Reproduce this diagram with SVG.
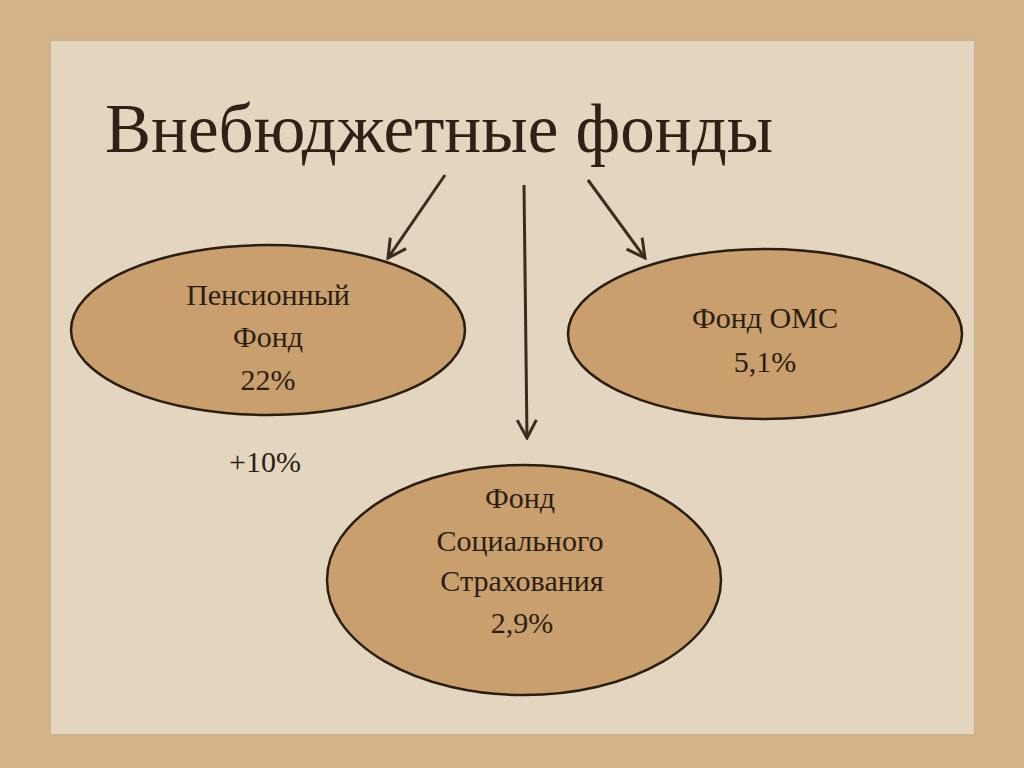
<svg xmlns="http://www.w3.org/2000/svg" width="1024" height="768" viewBox="0 0 1024 768">
<defs>
<style>
.n{fill:#c9a06d;stroke:#2a1e14;stroke-width:2.5}
.t{font-family:"Liberation Serif",serif;fill:#2a1e14;text-anchor:middle;font-size:30px}
.c{stroke:#3a2c20;stroke-width:3;fill:none}
</style>
<marker id="a" viewBox="0 0 20 20" refX="18" refY="10" markerWidth="24" markerHeight="24" orient="auto" markerUnits="userSpaceOnUse">
<path d="M3,2 L18,10 L3,18" fill="none" stroke="#3a2c20" stroke-width="2.5"/>
</marker>
</defs>
<rect width="1024" height="768" fill="#d5b48a"/>
<rect x="50" y="40" width="925" height="695" fill="#e4d6be" stroke="#c9b391" stroke-width="2"/>
<text x="105" y="152" font-family="Liberation Serif,serif" font-size="69" fill="#2e2218">Внебюджетные фонды</text>
<g id="connectors">
<line class="c" x1="445" y1="175" x2="388" y2="258" marker-end="url(#a)"/>
<line class="c" x1="524" y1="185" x2="527" y2="438" marker-end="url(#a)"/>
<line class="c" x1="588" y1="180" x2="645" y2="258" marker-end="url(#a)"/>
</g>
<g id="pension">
<ellipse class="n" cx="268" cy="330" rx="197" ry="85"/>
<text class="t" x="268" y="305">Пенсионный</text>
<text class="t" x="268" y="347">Фонд</text>
<text class="t" x="268" y="390">22%</text>
</g>
<g id="oms">
<ellipse class="n" cx="765" cy="334" rx="197" ry="85"/>
<text class="t" x="765" y="328">Фонд ОМС</text>
<text class="t" x="765" y="372">5,1%</text>
</g>
<g id="fss">
<ellipse class="n" cx="524" cy="580" rx="197" ry="115"/>
<text class="t" x="520" y="508">Фонд</text>
<text class="t" x="520" y="551">Социального</text>
<text class="t" x="522" y="591">Страхования</text>
<text class="t" x="522" y="633">2,9%</text>
</g>
<text class="t" x="265" y="472" font-size="36">+10%</text>
</svg>
